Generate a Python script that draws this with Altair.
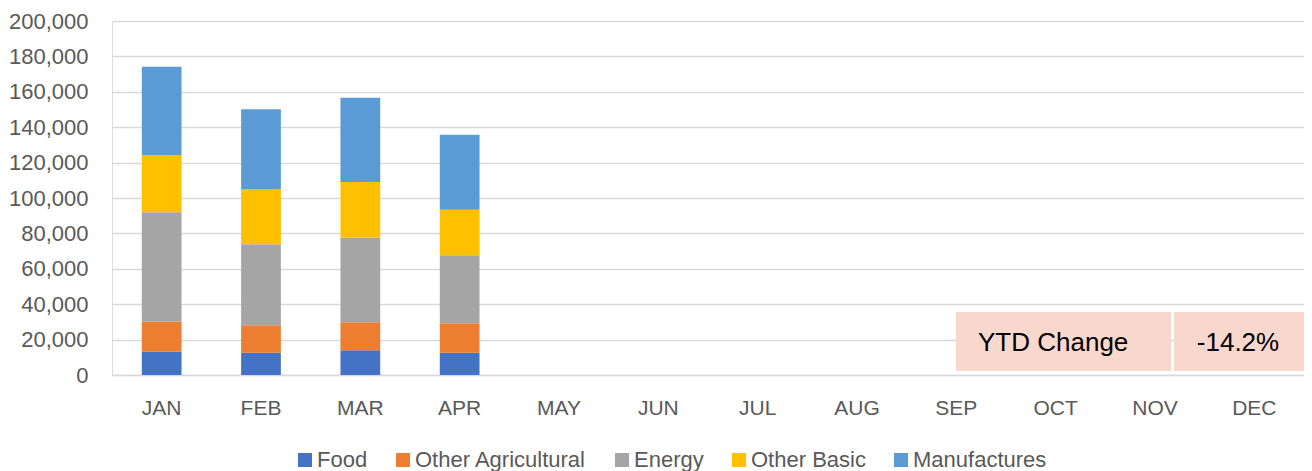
import altair as alt
import pandas as pd

months = ["JAN", "FEB", "MAR", "APR", "MAY", "JUN", "JUL", "AUG", "SEP", "OCT", "NOV", "DEC"]
data_months = ["JAN", "FEB", "MAR", "APR"]
series = ["Food", "Other Agricultural", "Energy", "Other Basic", "Manufactures"]
colors = ["#4472C4", "#ED7D31", "#A5A5A5", "#FFC000", "#5B9BD5"]

food = [13200, 12600, 14000, 12600]
other_ag = [17000, 15500, 15800, 16600]
energy = [61700, 45700, 47900, 38500]
other_basic = [32450, 31300, 31300, 25700]
manufactures = [49800, 45100, 47600, 42300]

y_ticks = [0, 20000, 40000, 60000, 80000, 100000, 120000, 140000, 160000, 180000, 200000]
ytd_label = "YTD Change"
ytd_value = "-14.2%"

rows = []
for i, m in enumerate(data_months):
    for k, (name, vals) in enumerate(zip(series, [food, other_ag, energy, other_basic, manufactures])):
        rows.append({"month": m, "series": name, "value": vals[i], "order": k})
df = pd.DataFrame(rows)

FONT = "Liberation Sans"
W, H = 1192, 354

bars = alt.Chart(df).mark_bar().encode(
    x=alt.X("month:N", sort=months,
            scale=alt.Scale(domain=months, paddingInner=0.6, paddingOuter=0.3),
            axis=alt.Axis(title=None, labelAngle=0, ticks=False, tickSize=0,
                          labelPadding=39, labelBaseline="alphabetic",
                          labelFontSize=21, labelColor="#595959", labelFont=FONT,
                          domainColor="#D9D9D9", domainWidth=1.3, grid=False)),
    y=alt.Y("value:Q", stack="zero",
            scale=alt.Scale(domain=[0, 200000], nice=False),
            axis=alt.Axis(title=None, values=y_ticks, format=",d", ticks=False, tickSize=0,
                          domain=False, labelPadding=24, labelFontSize=22,
                          labelColor="#595959", labelFont=FONT,
                          gridColor="#D9D9D9", gridWidth=1.3)),
    color=alt.Color("series:N", scale=alt.Scale(domain=series, range=colors),
                    legend=alt.Legend(title=None, orient="none", direction="horizontal",
                                      legendX=182, legendY=428,
                                      symbolType="square", symbolSize=196, symbolStrokeWidth=0,
                                      labelFontSize=22, labelColor="#595959", labelFont=FONT,
                                      labelLimit=0, labelOffset=1, columnPadding=24, padding=0)),
    order=alt.Order("order:Q", sort="ascending"),
)

box1 = alt.Chart(pd.DataFrame({"t": [ytd_label]})).mark_rect(color="#F8D7CD").encode(
    x=alt.value(844), x2=alt.value(1059), y=alt.value(291), y2=alt.value(350))
box2 = alt.Chart(pd.DataFrame({"t": [ytd_value]})).mark_rect(color="#F8D7CD").encode(
    x=alt.value(1062), x2=alt.value(1192), y=alt.value(291), y2=alt.value(350))
txt1 = alt.Chart(pd.DataFrame({"t": [ytd_label]})).mark_text(
    align="left", baseline="alphabetic", fontSize=26, font=FONT, color="#000000").encode(
    text="t:N", x=alt.value(866), y=alt.value(330))
txt2 = alt.Chart(pd.DataFrame({"t": [ytd_value]})).mark_text(
    align="center", baseline="alphabetic", fontSize=26, font=FONT, color="#000000").encode(
    text="t:N", x=alt.value(1126), y=alt.value(330))

chart = alt.layer(bars, box1, box2, txt1, txt2).properties(
    width=W, height=H,
    autosize=alt.AutoSizeParams(type="none"),
    padding={"left": 104, "top": 13, "right": 0, "bottom": 96},
).configure_view(stroke=None).configure(background="white")

chart.save("out.html", embed_options={"renderer": "svg", "actions": False})
